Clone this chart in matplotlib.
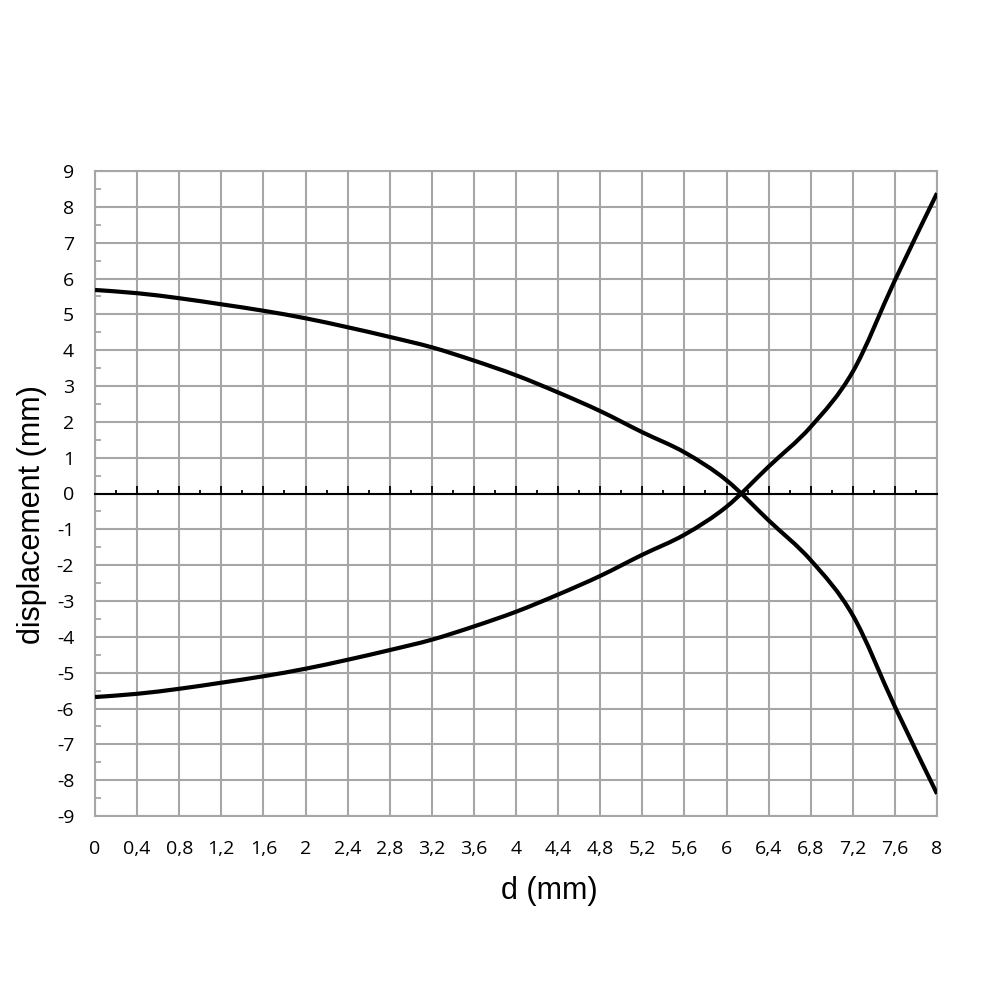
import numpy as np
import matplotlib
matplotlib.use('Agg')
import matplotlib.pyplot as plt
from matplotlib.path import Path
from matplotlib.patches import PathPatch
from matplotlib.ticker import MultipleLocator, FuncFormatter

# values
d_mm = [0, 0.4, 0.8, 1.2, 1.6, 2.0, 2.4, 2.8, 3.2, 3.6, 4.0, 4.4, 4.8, 5.2,
        5.6, 6.0, 6.4, 6.8, 7.2, 7.6, 8.0]
disp_a = [5.68, 5.59, 5.45, 5.28, 5.10, 4.89, 4.64, 4.37, 4.08, 3.71, 3.30,
          2.82, 2.30, 1.71, 1.15, 0.37, -0.75, -1.86, -3.40, -5.95, -8.38]
disp_b = [-5.68, -5.59, -5.45, -5.28, -5.10, -4.89, -4.64, -4.37, -4.08, -3.71,
          -3.30, -2.82, -2.30, -1.71, -1.15, -0.37, 0.75, 1.86, 3.40, 5.95, 8.38]


def smooth_path(xs, ys):
    # bezier path through the points, like a spreadsheet "smoothed line"
    p = np.column_stack([xs, ys]).astype(float)
    verts = [p[0]]
    codes = [Path.MOVETO]
    n = len(p)
    for i in range(n - 1):
        p0 = p[max(i - 1, 0)]
        p3 = p[min(i + 2, n - 1)]
        c1 = p[i] + (p[i + 1] - p0) / 6.0
        c2 = p[i + 1] - (p3 - p[i]) / 6.0
        verts += [c1, c2, p[i + 1]]
        codes += [Path.CURVE4] * 3
    return Path(verts, codes)


plt.rcParams['axes.unicode_minus'] = False
grid_col = '#a6a6a6'
tick_family = ['Open Sans', 'DejaVu Sans']
tick_size = 14

fig = plt.figure(figsize=(10, 10), dpi=100)
ax = fig.add_axes([0.095, 0.184, 0.842, 0.645])

for ys in (disp_a, disp_b):
    ax.add_patch(PathPatch(smooth_path(d_mm, ys), facecolor='none',
                           edgecolor='black', lw=3, zorder=4))

ax.set_xlim(0, 8)
ax.set_ylim(-9, 9)

# x axis line through zero with upward ticks
ax.xaxis.set_major_locator(MultipleLocator(0.4))
ax.xaxis.set_minor_locator(MultipleLocator(0.2))
ax.spines['bottom'].set_position(('data', 0))
ax.spines['bottom'].set_color('black')
ax.spines['bottom'].set_linewidth(1.5)
ax.spines['bottom'].set_zorder(3)
ax.tick_params(axis='x', which='major', direction='in', length=5.5, width=1.3,
               color='black', labelbottom=False)
ax.tick_params(axis='x', which='minor', direction='in', length=3, width=1.3,
               color='black')

ax.yaxis.set_major_locator(MultipleLocator(1))
ax.yaxis.set_minor_locator(MultipleLocator(0.5))
ax.yaxis.set_major_formatter(FuncFormatter(lambda v, p: f"{v:g}"))
ax.tick_params(axis='y', which='major', length=0, pad=15,
               labelsize=tick_size, labelfontfamily=tick_family)
ax.tick_params(axis='y', which='minor', direction='in', length=4.5, width=1.3,
               color=grid_col)

for s in ['left', 'top', 'right']:
    ax.spines[s].set_color(grid_col)
    ax.spines[s].set_linewidth(1.5)

ax.grid(True, which='major', color=grid_col, lw=1.5)
ax.set_axisbelow(True)

# tick labels at the bottom
sec = ax.secondary_xaxis('bottom')
sec.set_xticks(np.arange(0, 8.01, 0.4))
sec.xaxis.set_major_formatter(FuncFormatter(lambda v, p: f"{round(v, 1):g}".replace('.', ',')))
sec.tick_params(length=0, pad=17, labelsize=tick_size,
                labelfontfamily=tick_family)
sec.spines['bottom'].set_color(grid_col)
sec.spines['bottom'].set_linewidth(1.5)

label_family = ['Liberation Sans', 'DejaVu Sans']
fig.text(0.549, 0.109, 'd (mm)', family=label_family, size=22,
         ha='center', va='center')
fig.text(0.032, 0.485, 'displacement (mm)', family=label_family, size=22,
         ha='center', va='center', rotation=90)

fig.savefig('out.png', dpi=100)
